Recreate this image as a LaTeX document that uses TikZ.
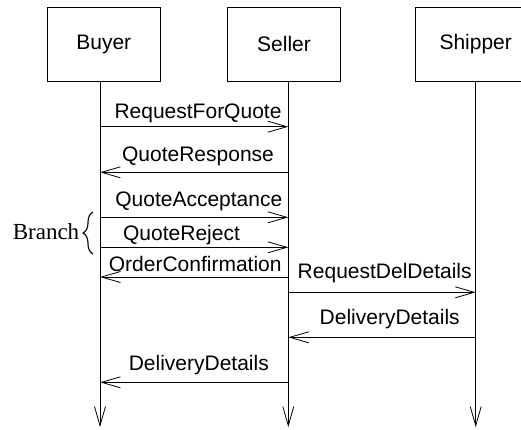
\documentclass[tikz,border=0pt]{standalone}
\usepackage{fontspec}
\setmainfont{Liberation Serif}
\setsansfont{Liberation Sans}
\usetikzlibrary{arrows.meta,calc,decorations.pathreplacing}

\tikzset{
  role/.style={draw,line width=0.8pt,minimum width=113pt,minimum height=74pt,inner sep=0pt,font=\sffamily\fontsize{21}{25}\selectfont},
  life/.style={line width=0.8pt,-{Straight Barb[length=19pt,width=11pt]}},
  msg/.style={line width=0.8pt,-{Straight Barb[length=19pt,width=11pt]}},
  msglabel/.style={anchor=base,inner sep=0pt,font=\sffamily\fontsize{21}{25}\selectfont}
}

\begin{document}
\begin{tikzpicture}[x=1pt,y=-1pt]
  \useasboundingbox (0,0) rectangle (521,429);
  \clip (0,0) rectangle (521,429);
  % the three roles
  \node[role] (buyer) at (103.8,44) {Buyer};
  \node[role] (seller) at (284,44) {Seller};
  \node[role,minimum width=121pt] (shipper) at (475.7,44) {Shipper};
  % lifelines
  \foreach \n/\x in {b/100,s/288.3,h/475.7}{
    \coordinate (\n top) at (\x,81);
    \coordinate (\n bot) at (\x,427);
    \draw[life] (\n top) -- (\n bot);
  }
  % messages, top to bottom
  \foreach \y/\p/\q in {126.7/b/s,172.3/s/b,217.3/b/s,247.3/b/s,277/s/b,292.3/s/h,337.3/h/s,382.3/s/b}
    \draw[msg] (\p top |- 0,\y) -- (\q top |- 0,\y);
  \foreach \lx/\ly/\txt [count=\i] in {198/118.3/RequestForQuote,198/161.7/QuoteResponse,198.8/206.7/QuoteAcceptance,181.5/240.3/QuoteReject,195.2/271.7/OrderConfirmation,384.7/278.3/RequestDelDetails,389.7/324.3/DeliveryDetails,198.8/370/DeliveryDetails}
    \node[msglabel] (lbl\i) at (\lx,\ly) {\txt};
  % accept / reject alternative
  \node[anchor=base,inner sep=0pt,font=\fontsize{23}{27}\selectfont] (branch) at (46,239) {Branch};
  \coordinate (brtop) at (93,212);
  \coordinate (brbot) at (93,254);
  \draw[line width=1.1pt,decorate,decoration={brace,amplitude=10pt,aspect=0.5}] (brbot) -- (brtop);
\end{tikzpicture}
\end{document}
